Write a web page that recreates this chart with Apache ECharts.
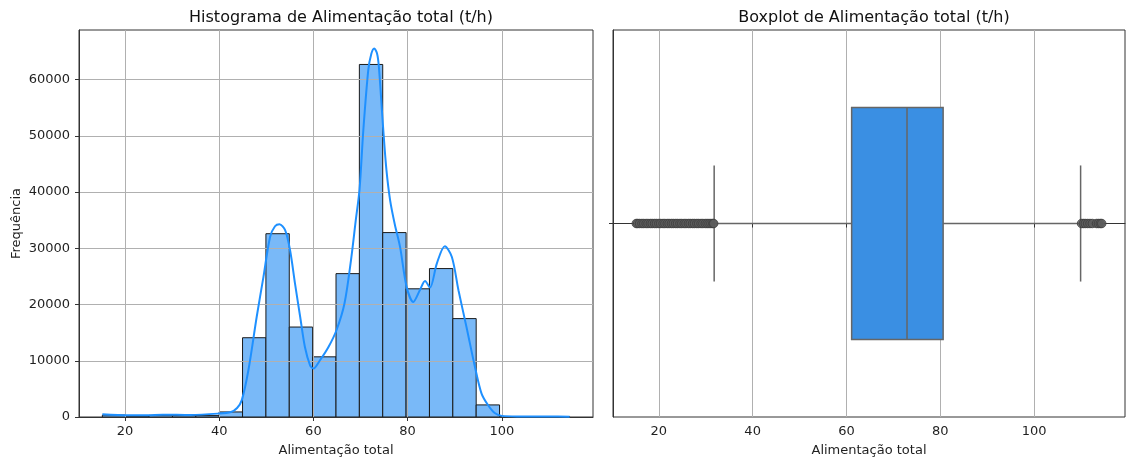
<!DOCTYPE html>
<html>
<head>
<meta charset="utf-8">
<script src="https://cdn.jsdelivr.net/npm/echarts@6/dist/echarts.min.js"></script>
<style>
html, body { margin: 0; padding: 0; background: #ffffff; }
#chart { width: 1126px; height: 459px; }
</style>
</head>
<body>
<div id="chart"></div>
<script>
// Histogram of total feed rate (t/h): 20 bins between the data min and max
const binEdges = [15.2, 20.16, 25.12, 30.08, 35.04, 40.0, 44.96, 49.92, 54.88, 59.84, 64.8,
                  69.76, 74.72, 79.68, 84.64, 89.6, 94.56, 99.52, 104.48, 109.44, 114.4];
const binCounts = [350, 150, 300, 250, 250, 900, 14100, 32600, 16000, 10700,
                   25500, 62700, 32800, 22800, 26400, 17500, 2150, 60, 40, 30];

// Kernel density estimate, scaled to counts
const kdeX = [15.2, 20.7, 25.0, 28.0, 33.9, 39.7, 42.5, 43.8, 44.8, 46.2, 47.96, 49.4, 50.8, 51.85,
              52.8, 54.0, 55.05, 56.1, 57.2, 58.2, 59.3, 60.0, 61.4, 63.2, 64.9, 66.6, 68.0, 69.0,
              69.8, 70.6, 71.65, 72.3, 72.9, 73.5, 73.9, 74.8, 75.5, 76.3, 77.3, 78.4, 79.8, 81.2,
              82.6, 83.7, 84.75, 86.2, 87.9, 89.4, 90.8, 92.5, 94.3, 95.7, 97.1, 98.5, 100.0, 104.0,
              110.0, 114.4];
const kdeY = [470, 300, 330, 420, 350, 600, 900, 1600, 3000, 8310, 17790, 24910, 32030, 33930,
              34290, 33220, 29660, 23730, 17790, 12450, 9200, 8610, 10090, 12450, 15430, 20180, 28000, 35000,
              40500, 51000, 61700, 64600, 65550, 64700, 62300, 51500, 44000, 38500, 34200, 30250, 23130, 20460,
              22540, 24200, 23020, 27290, 30370, 28470, 22540, 16010, 8900, 4160, 2080, 700, 200, 100,
              80, 60];

// Boxplot summary: lower whisker, Q1, median, Q3, upper whisker
const boxStats = [31.8, 61.1, 72.9, 80.6, 109.9];
const lowOutliers = [15.2, 15.5, 15.9, 16.4, 16.8, 17.3, 17.7, 18.2, 18.6, 19.1, 19.5, 20.0, 20.4,
                     20.9, 21.3, 21.8, 22.2, 22.7, 23.1, 23.6, 24.0, 24.5, 24.9, 25.4, 25.8, 26.3,
                     26.7, 27.2, 27.6, 28.1, 28.5, 29.0, 29.4, 29.9, 30.3, 30.7, 31.1, 31.5, 31.7];
const highOutliers = [110.1, 110.5, 110.9, 111.4, 111.9, 112.4, 113.3, 113.7, 114.1, 114.4];

const xTicks = [20, 40, 60, 80, 100];
const countTicks = [0, 10000, 20000, 30000, 40000, 50000, 60000];
const xRange = [10.24, 119.36];
const countMax = 68830;

const FONT = 'DejaVu Sans';
const INK = '#1f1f1f';
const GRID_LINE = '#b0b0b0';
const LINE_GRAY = '#666666';

const chart = echarts.init(document.getElementById('chart'), null, { renderer: 'canvas' });

function valueXAxis(gridIndex, z) {
  return {
    type: 'value', gridIndex: gridIndex, min: xRange[0], max: xRange[1], z: z,
    name: 'Alimentação total', nameLocation: 'middle', nameGap: 27,
    nameTextStyle: { fontFamily: FONT, fontSize: 13, color: INK },
    axisLine: { show: true, lineStyle: { color: '#333', width: 1 } },
    axisTick: { show: true, inside: false, length: 4, customValues: xTicks, lineStyle: { color: '#333' } },
    axisLabel: { customValues: xTicks, fontFamily: FONT, fontSize: 13, color: INK, margin: 8 },
    splitLine: { show: true, lineStyle: { color: GRID_LINE, width: 1 } }
  };
}

// Histogram bars: one rectangle per bin, from edge to edge
function renderBin(params, api) {
  const base = api.coord([api.value(0), 0]);
  const top = api.coord([api.value(1), api.value(2)]);
  return {
    type: 'rect',
    shape: { x: base[0], y: top[1], width: top[0] - base[0], height: base[1] - top[1] },
    style: { fill: '#79b9f8', stroke: '#1a1a1a', lineWidth: 1 }
  };
}

// Horizontal box with whiskers, caps and median line
function renderBox(params, api) {
  const pLow = api.coord([api.value(0), 0]);
  const pQ1 = api.coord([api.value(1), 0]);
  const pMed = api.coord([api.value(2), 0]);
  const pQ3 = api.coord([api.value(3), 0]);
  const pHigh = api.coord([api.value(4), 0]);
  const h = api.size([0, 0.6])[1];
  const cy = pMed[1];
  const lineStyle = { stroke: LINE_GRAY, lineWidth: 1.5, fill: null };
  return {
    type: 'group',
    children: [
      { type: 'line', shape: { x1: pLow[0], y1: cy, x2: pQ1[0], y2: cy }, style: lineStyle },
      { type: 'line', shape: { x1: pQ3[0], y1: cy, x2: pHigh[0], y2: cy }, style: lineStyle },
      { type: 'line', shape: { x1: pLow[0], y1: cy - h / 4, x2: pLow[0], y2: cy + h / 4 }, style: lineStyle },
      { type: 'line', shape: { x1: pHigh[0], y1: cy - h / 4, x2: pHigh[0], y2: cy + h / 4 }, style: lineStyle },
      { type: 'rect', shape: { x: pQ1[0], y: cy - h / 2, width: pQ3[0] - pQ1[0], height: h },
        style: { fill: '#3a8fe3', stroke: LINE_GRAY, lineWidth: 1.5 } },
      { type: 'line', shape: { x1: pMed[0], y1: cy - h / 2, x2: pMed[0], y2: cy + h / 2 }, style: lineStyle }
    ]
  };
}

const option = {
  backgroundColor: '#ffffff',
  animation: false,
  textStyle: { fontFamily: FONT },
  title: [
    { text: 'Histograma de Alimentação total (t/h)', left: 336, top: 5, textAlign: 'center',
      textStyle: { fontFamily: FONT, fontSize: 16, fontWeight: 'normal', color: '#111' } },
    { text: 'Boxplot de Alimentação total (t/h)', left: 869, top: 5, textAlign: 'center',
      textStyle: { fontFamily: FONT, fontSize: 16, fontWeight: 'normal', color: '#111' } }
  ],
  grid: [
    { left: 79, top: 30, width: 514, height: 387, outerBoundsMode: 'none', containLabel: false,
      show: true, borderColor: '#333', borderWidth: 1, backgroundColor: 'transparent' },
    { left: 613, top: 30, width: 512, height: 387, outerBoundsMode: 'none', containLabel: false,
      show: true, borderColor: '#333', borderWidth: 1, backgroundColor: 'transparent' }
  ],
  xAxis: [valueXAxis(0, 3), valueXAxis(1, 0)],
  yAxis: [
    {
      type: 'value', gridIndex: 0, min: 0, max: countMax, z: 3,
      name: 'Frequência', nameLocation: 'middle', nameGap: 56,
      nameTextStyle: { fontFamily: FONT, fontSize: 13, color: INK },
      axisLine: { show: true, lineStyle: { color: '#333', width: 1 } },
      axisTick: { show: true, inside: false, length: 4, customValues: countTicks, lineStyle: { color: '#333' } },
      axisLabel: { customValues: countTicks, fontFamily: FONT, fontSize: 13, color: INK, margin: 9,
                   formatter: v => String(v) },
      splitLine: { show: true, lineStyle: { color: GRID_LINE, width: 1 } }
    },
    {
      type: 'value', gridIndex: 1, min: -0.5, max: 0.5, inverse: true,
      axisLine: { show: true, lineStyle: { color: '#333', width: 1 } },
      axisTick: { show: true, inside: false, length: 4, customValues: [0], lineStyle: { color: '#333' } },
      axisLabel: { show: false, customValues: [0] },
      splitLine: { show: true, lineStyle: { color: GRID_LINE, width: 1 } }
    }
  ],
  series: [
    {
      type: 'custom', name: 'hist', xAxisIndex: 0, yAxisIndex: 0, z: 2,
      renderItem: renderBin,
      encode: { x: [0, 1], y: 2 },
      data: binCounts.map((c, i) => [binEdges[i], binEdges[i + 1], c])
    },
    {
      type: 'line', name: 'kde', xAxisIndex: 0, yAxisIndex: 0, z: 5,
      symbol: 'none', smooth: 0.3,
      lineStyle: { color: '#1e90ff', width: 2 },
      data: kdeX.map((x, i) => [x, kdeY[i]])
    },
    {
      type: 'custom', name: 'box', xAxisIndex: 1, yAxisIndex: 1, z: 2,
      renderItem: renderBox,
      encode: { x: [0, 1, 2, 3, 4], y: 5 },
      data: [boxStats.concat([0])]
    },
    {
      type: 'scatter', name: 'outliers', xAxisIndex: 1, yAxisIndex: 1, z: 3,
      symbol: 'circle', symbolSize: 8.5,
      itemStyle: { color: '#5c5c5c', borderColor: '#3c3c3c', borderWidth: 1 },
      data: lowOutliers.concat(highOutliers).map(v => [v, 0])
    }
  ]
};

chart.setOption(option);
</script>
</body>
</html>
